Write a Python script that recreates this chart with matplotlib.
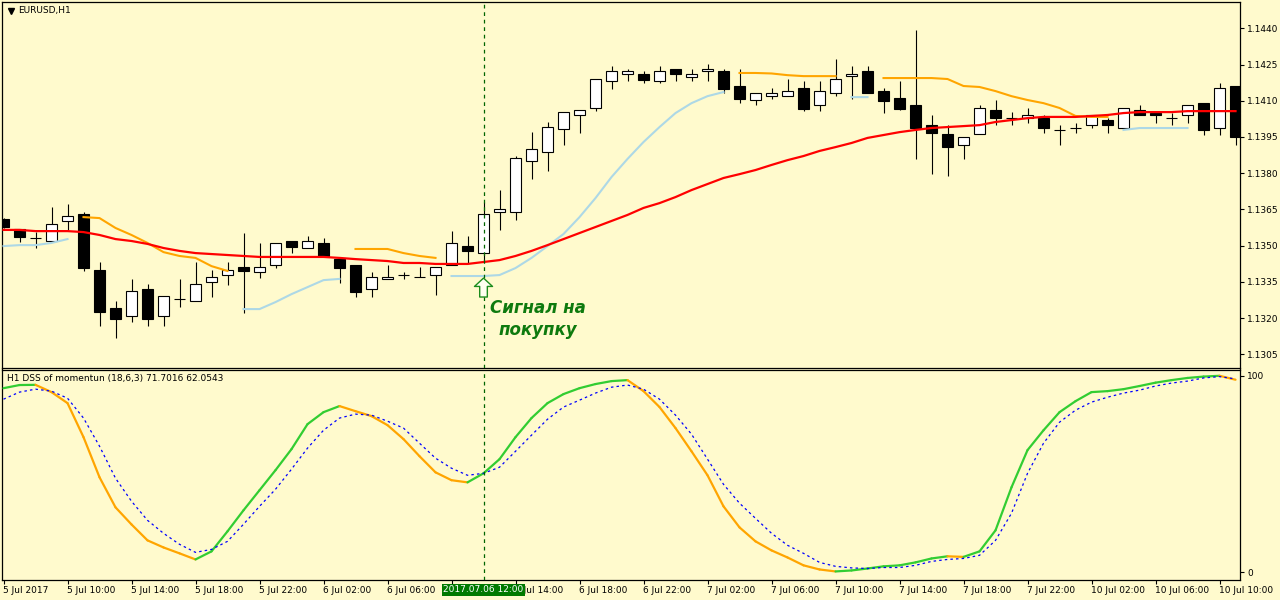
import numpy as np
import matplotlib
matplotlib.use("Agg")
import matplotlib.pyplot as plt
from matplotlib.collections import LineCollection
from matplotlib.ticker import FormatStrFormatter
import matplotlib.transforms as mtransforms

N = np.nan
BG = "#fffacd"

# EURUSD H1, 78 hourly bars from 5 Jul 2017 06:00 to 10 Jul 2017 11:00
opens = [1.13610, 1.13569, 1.13531, 1.13519, 1.13602, 1.13631, 1.13399, 1.13241, 1.13208, 1.13320,
         1.13208, 1.13279, 1.13271, 1.13349, 1.13378, 1.13411, 1.13391, 1.13420, 1.13519, 1.13490,
         1.13511, 1.13444, 1.13420, 1.13320, 1.13362, 1.13378, 1.13370, 1.13378, 1.13420, 1.13498,
         1.13469, 1.13639, 1.13639, 1.13850, 1.13888, 1.13983, 1.14041, 1.14070, 1.14182, 1.14211,
         1.14211, 1.14182, 1.14231, 1.14198, 1.14223, 1.14223, 1.14161, 1.14103, 1.14119, 1.14119,
         1.14153, 1.14082, 1.14132, 1.14202, 1.14223, 1.14140, 1.14111, 1.14082, 1.13999, 1.13962,
         1.13917, 1.13962, 1.14062, 1.14028, 1.14028, 1.14028, 1.13979, 1.13987, 1.13999, 1.14020,
         1.13987, 1.14062, 1.14049, 1.14028, 1.14041, 1.14090, 1.13987, 1.14161]
highs = [1.13614, 1.13569, 1.13556, 1.13660, 1.13672, 1.13639, 1.13432, 1.13271, 1.13362, 1.13341,
         1.13291, 1.13362, 1.13432, 1.13399, 1.13432, 1.13552, 1.13511, 1.13511, 1.13519, 1.13540,
         1.13531, 1.13453, 1.13420, 1.13391, 1.13420, 1.13391, 1.13411, 1.13411, 1.13560, 1.13540,
         1.13681, 1.13730, 1.13871, 1.13970, 1.14012, 1.14053, 1.14062, 1.14190, 1.14244, 1.14231,
         1.14223, 1.14244, 1.14231, 1.14231, 1.14252, 1.14231, 1.14231, 1.14132, 1.14153, 1.14190,
         1.14182, 1.14182, 1.14273, 1.14244, 1.14244, 1.14153, 1.14182, 1.14393, 1.14041, 1.13999,
         1.13950, 1.14082, 1.14103, 1.14053, 1.14070, 1.14041, 1.13999, 1.14008, 1.14041, 1.14028,
         1.14070, 1.14082, 1.14049, 1.14049, 1.14082, 1.14090, 1.14173, 1.14161]
lows = [1.13573, 1.13515, 1.13490, 1.13519, 1.13565, 1.13395, 1.13167, 1.13117, 1.13184, 1.13167,
        1.13167, 1.13246, 1.13271, 1.13287, 1.13337, 1.13221, 1.13366, 1.13407, 1.13469, 1.13490,
        1.13457, 1.13345, 1.13287, 1.13287, 1.13362, 1.13362, 1.13370, 1.13295, 1.13420, 1.13428,
        1.13428, 1.13565, 1.13606, 1.13776, 1.13809, 1.13917, 1.13966, 1.14057, 1.14148, 1.14182,
        1.14173, 1.14173, 1.14182, 1.14182, 1.14182, 1.14132, 1.14091, 1.14082, 1.14107, 1.14119,
        1.14057, 1.14057, 1.14119, 1.14107, 1.14132, 1.14049, 1.14062, 1.13859, 1.13796, 1.13788,
        1.13859, 1.13962, 1.13999, 1.13999, 1.14008, 1.13966, 1.13917, 1.13966, 1.13987, 1.13966,
        1.13987, 1.14041, 1.14008, 1.13999, 1.14008, 1.13958, 1.13958, 1.13917]
closes = [1.13577, 1.13535, 1.13532, 1.13589, 1.13623, 1.13407, 1.13225, 1.13196, 1.13312, 1.13196,
          1.13291, 1.13280, 1.13341, 1.13370, 1.13399, 1.13395, 1.13411, 1.13511, 1.13494, 1.13519,
          1.13457, 1.13407, 1.13308, 1.13370, 1.13370, 1.13379, 1.13371, 1.13411, 1.13511, 1.13478,
          1.13631, 1.13651, 1.13863, 1.13900, 1.13991, 1.14053, 1.14062, 1.14190, 1.14223, 1.14223,
          1.14186, 1.14223, 1.14211, 1.14211, 1.14231, 1.14148, 1.14107, 1.14132, 1.14132, 1.14140,
          1.14066, 1.14140, 1.14190, 1.14211, 1.14132, 1.14099, 1.14066, 1.13987, 1.13966, 1.13908,
          1.13950, 1.14070, 1.14028, 1.14029, 1.14041, 1.13987, 1.13980, 1.13988, 1.14041, 1.13999,
          1.14070, 1.14041, 1.14041, 1.14029, 1.14082, 1.13979, 1.14153, 1.13950]

# slow moving average (red)
ma_red = [1.13565, 1.13565, 1.13560, 1.13560, 1.13560, 1.13556, 1.13544, 1.13527, 1.13519, 1.13507,
          1.13490, 1.13478, 1.13469, 1.13465, 1.13461, 1.13457, 1.13453, 1.13453, 1.13453, 1.13453,
          1.13453, 1.13449, 1.13444, 1.13440, 1.13436, 1.13428, 1.13428, 1.13424, 1.13424, 1.13424,
          1.13432, 1.13440, 1.13457, 1.13478, 1.13502, 1.13527, 1.13552, 1.13577, 1.13602, 1.13627,
          1.13656, 1.13676, 1.13701, 1.13730, 1.13755, 1.13780, 1.13796, 1.13813, 1.13834, 1.13854,
          1.13871, 1.13892, 1.13908, 1.13925, 1.13946, 1.13958, 1.13970, 1.13979, 1.13987, 1.13991,
          1.13995, 1.13999, 1.14012, 1.14020, 1.14028, 1.14033, 1.14033, 1.14033, 1.14037, 1.14041,
          1.14049, 1.14053, 1.14053, 1.14053, 1.14057, 1.14057, 1.14057, 1.14057]

# trailing levels: orange above price (down trend), light blue below price (up trend)
trail_down = [N, N, N, N, N, 1.13618, 1.13614, 1.13573, 1.13544, 1.13511,
              1.13473, 1.13457, 1.13449, 1.13415, 1.13395, N, N, N, N, N,
              N, N, 1.13486, 1.13486, 1.13486, 1.13469, 1.13457, 1.13449, N, N,
              N, N, N, N, N, N, N, N, N, N,
              N, N, N, N, N, N, 1.14215, 1.14215, 1.14213, 1.14206,
              1.14202, 1.14202, 1.14202, N, N, 1.14194, 1.14194, 1.14194, 1.14194, 1.14190,
              1.14161, 1.14157, 1.14140, 1.14119, 1.14103, 1.14090, 1.14070, 1.14037, 1.14033, 1.14033,
              N, N, N, N, N, N, N, N]
trail_up = [1.13498, 1.13502, 1.13502, 1.13511, 1.13527, N, N, N, N, N,
            N, N, N, N, N, 1.13237, 1.13237, 1.13266, 1.13299, 1.13328,
            1.13357, 1.13362, N, N, N, N, N, N, 1.13374, 1.13374,
            1.13374, 1.13378, 1.13407, 1.13449, 1.13498, 1.13548, 1.13618, 1.13697, 1.13784, 1.13859,
            1.13929, 1.13991, 1.14049, 1.14090, 1.14119, 1.14136, N, N, N, N,
            N, N, N, 1.14115, 1.14115, N, N, N, N, N,
            N, N, N, N, N, N, N, N, N, N,
            1.13979, 1.13987, 1.13987, 1.13987, 1.13987, N, N, N]

# DSS of momentum (18,6,3)
dss_main = [93.7, 95.3, 95.4, 91.7, 86.1, 68.8, 48.4, 33.1, 24.4, 16.3,
            12.7, 9.7, 6.6, 10.7, 20.9, 31.6, 41.8, 52.0, 62.7, 75.4,
            81.5, 84.6, 82.0, 79.5, 74.9, 67.8, 59.1, 50.9, 46.9, 45.8,
            50.4, 57.6, 68.8, 78.5, 86.1, 90.7, 93.7, 95.8, 97.3, 97.8,
            92.2, 84.1, 73.4, 61.6, 49.4, 33.6, 22.9, 15.8, 11.2, 7.6,
            3.6, 1.5, 0.5, 1.0, 2.0, 3.1, 3.6, 5.1, 7.1, 8.2,
            7.9, 10.7, 21.4, 43.3, 62.2, 72.3, 81.5, 87.1, 91.7, 92.2,
            93.2, 94.8, 96.5, 97.8, 98.9, 99.6, 100.0, 98.0]
dss_signal = [88.1, 91.7, 93.2, 92.2, 88.6, 78.5, 64.2, 47.9, 36.2, 26.5,
              19.9, 14.3, 10.2, 11.7, 15.8, 24.5, 33.6, 42.3, 52.5, 63.2,
              72.3, 78.5, 80.5, 80.0, 76.9, 73.4, 65.7, 58.1, 53.0, 49.4,
              50.4, 53.5, 61.6, 69.8, 77.9, 84.1, 87.6, 91.2, 94.2, 95.3,
              93.2, 88.1, 80.0, 70.3, 57.6, 44.8, 35.2, 27.5, 19.9, 13.8,
              9.7, 5.1, 3.1, 2.3, 2.0, 2.5, 2.5, 3.6, 5.6, 6.6,
              7.1, 8.7, 16.3, 30.1, 50.4, 65.7, 76.4, 82.5, 86.6, 89.1,
              91.2, 92.7, 94.8, 96.3, 97.3, 98.9, 99.6, 98.4]

tick_bars = list(range(0, 78, 4))
tick_labels = ["5 Jul 2017", "5 Jul 10:00", "5 Jul 14:00", "5 Jul 18:00", "5 Jul 22:00",
               "6 Jul 02:00", "6 Jul 06:00", "6 Jul 10:00", "6 Jul 14:00", "6 Jul 18:00",
               "6 Jul 22:00", "7 Jul 02:00", "7 Jul 06:00", "7 Jul 10:00", "7 Jul 14:00",
               "7 Jul 18:00", "7 Jul 22:00", "10 Jul 02:00", "10 Jul 06:00", "10 Jul 10:00"]
price_ticks = [1.1305, 1.1320, 1.1335, 1.1350, 1.1365, 1.1380, 1.1395, 1.1410, 1.1425, 1.1440]

signal_bar = 30
signal_time = "2017.07.06 12:00"

FS = 6.5
W, H = 1280, 600

fig = plt.figure(figsize=(W / 100, H / 100), dpi=100, facecolor=BG)
ax1 = fig.add_axes([2 / W, 1 - 368 / H, 1238 / W, 366 / H], facecolor=BG)
ax2 = fig.add_axes([2 / W, 1 - 579.5 / H, 1238 / W, 210 / H], facecolor=BG)

x = np.arange(len(opens))
o, h, l, c = (np.array(v) for v in (opens, highs, lows, closes))
bull = c >= o

# candles
ax1.vlines(x, l, h, color="black", lw=0.8, zorder=2)
ax1.bar(x, np.maximum(np.abs(c - o), 1e-6), bottom=np.minimum(o, c), width=0.68,
        color=np.where(bull, "white", "black"), edgecolor="black", linewidth=0.8, zorder=3)

ax1.plot(x, np.array(trail_down, dtype=float), color="#ffa500", lw=1.5, zorder=4)
ax1.plot(x, np.array(trail_up, dtype=float), color="#add8e6", lw=1.5, zorder=4)
ax1.plot(x, ma_red, color="#ff0000", lw=1.6, zorder=5)

xmin, xmax = -0.094, 77.28
ax1.set_xlim(xmin, xmax)
ax1.set_ylim(1.12993, 1.14509)
ax1.set_xticks([])
ax1.yaxis.tick_right()
ax1.set_yticks(price_ticks)
ax1.yaxis.set_major_formatter(FormatStrFormatter("%.4f"))
ax1.tick_params(axis="y", length=3, width=0.8, pad=2, labelsize=FS, colors="black")

# signal marker + note
ax1.axvline(signal_bar, color="#006400", lw=0.9, ls=(0, (3, 3)), zorder=6)
up_val = trail_up[signal_bar]
ax1.annotate("", xy=(signal_bar, up_val), xytext=(0, -21), textcoords="offset pixels",
             arrowprops=dict(arrowstyle="simple,head_length=0.6,head_width=1.3,tail_width=0.55",
                             mutation_scale=10, fc="#fffff0", ec="#1c8c1c", lw=1.0,
                             shrinkA=0, shrinkB=1.5), zorder=7)
ax1.annotate("Сигнал на\nпокупку", xy=(signal_bar, up_val), xytext=(54, -43),
             textcoords="offset pixels", ha="center", va="center", fontsize=12,
             fontweight="bold", fontstyle="italic", color="#0e7a0e", linespacing=1.3, zorder=7)

ax1.plot([8.5 / 1238], [(368 - 10.5) / 366], marker="v", ms=4, color="black",
         transform=ax1.transAxes, clip_on=False)
ax1.text(16 / 1238, (368 - 10.5) / 366, "EURUSD,H1", transform=ax1.transAxes,
         ha="left", va="center", fontsize=FS, color="black")

# DSS panel
pts = np.column_stack([x, dss_main])
segs = np.stack([pts[:-1], pts[1:]], axis=1)
seg_colors = ["#32cd32" if b > a else "#ffa500" for a, b in zip(dss_main[:-1], dss_main[1:])]
ax2.add_collection(LineCollection(segs, colors=seg_colors, linewidths=1.6,
                                  capstyle="round", zorder=3))
ax2.plot(x, dss_signal, color="#0000ff", lw=0.9, ls=(0, (2, 2.5)), zorder=4)
ax2.axvline(signal_bar, color="#006400", lw=0.9, ls=(0, (3, 3)), zorder=6)

ax2.set_xlim(xmin, xmax)
ax2.set_ylim(-3.6, 103.2)
ax2.yaxis.tick_right()
ax2.set_yticks([0, 100])
ax2.tick_params(axis="y", length=3, width=0.8, pad=2, labelsize=FS, colors="black")
ax2.set_xticks(tick_bars)
ax2.set_xticklabels(tick_labels, ha="left")
ax2.tick_params(axis="x", length=3, width=0.8, pad=1.5, labelsize=FS, colors="black")
shift = mtransforms.ScaledTranslation(-1 / 100, 0, fig.dpi_scale_trans)
for bar, lab in zip(tick_bars, ax2.get_xticklabels()):
    lab.set_transform(lab.get_transform() + shift)
    # the cursor time box hides the label that starts just before it
    if bar < signal_bar < bar + 4:
        lab.set_visible(False)

ax2.text(5 / 1238, (579.5 - 378) / 210, "H1 DSS of momentun (18,6,3) 71.7016 62.0543",
         transform=ax2.transAxes, ha="left", va="center", fontsize=FS, color="black")

blend = mtransforms.blended_transform_factory(ax2.transData, ax2.transAxes)
ax2.text(signal_bar, -0.028, signal_time, transform=blend, ha="center", va="top",
         fontsize=FS, color="white", clip_on=False, zorder=10,
         bbox=dict(boxstyle="square,pad=0.2", fc="#007a00", ec="none"))

for ax in (ax1, ax2):
    for sp in ax.spines.values():
        sp.set_linewidth(0.9)
        sp.set_color("black")

fig.savefig("out.png", dpi=100, facecolor=BG)
